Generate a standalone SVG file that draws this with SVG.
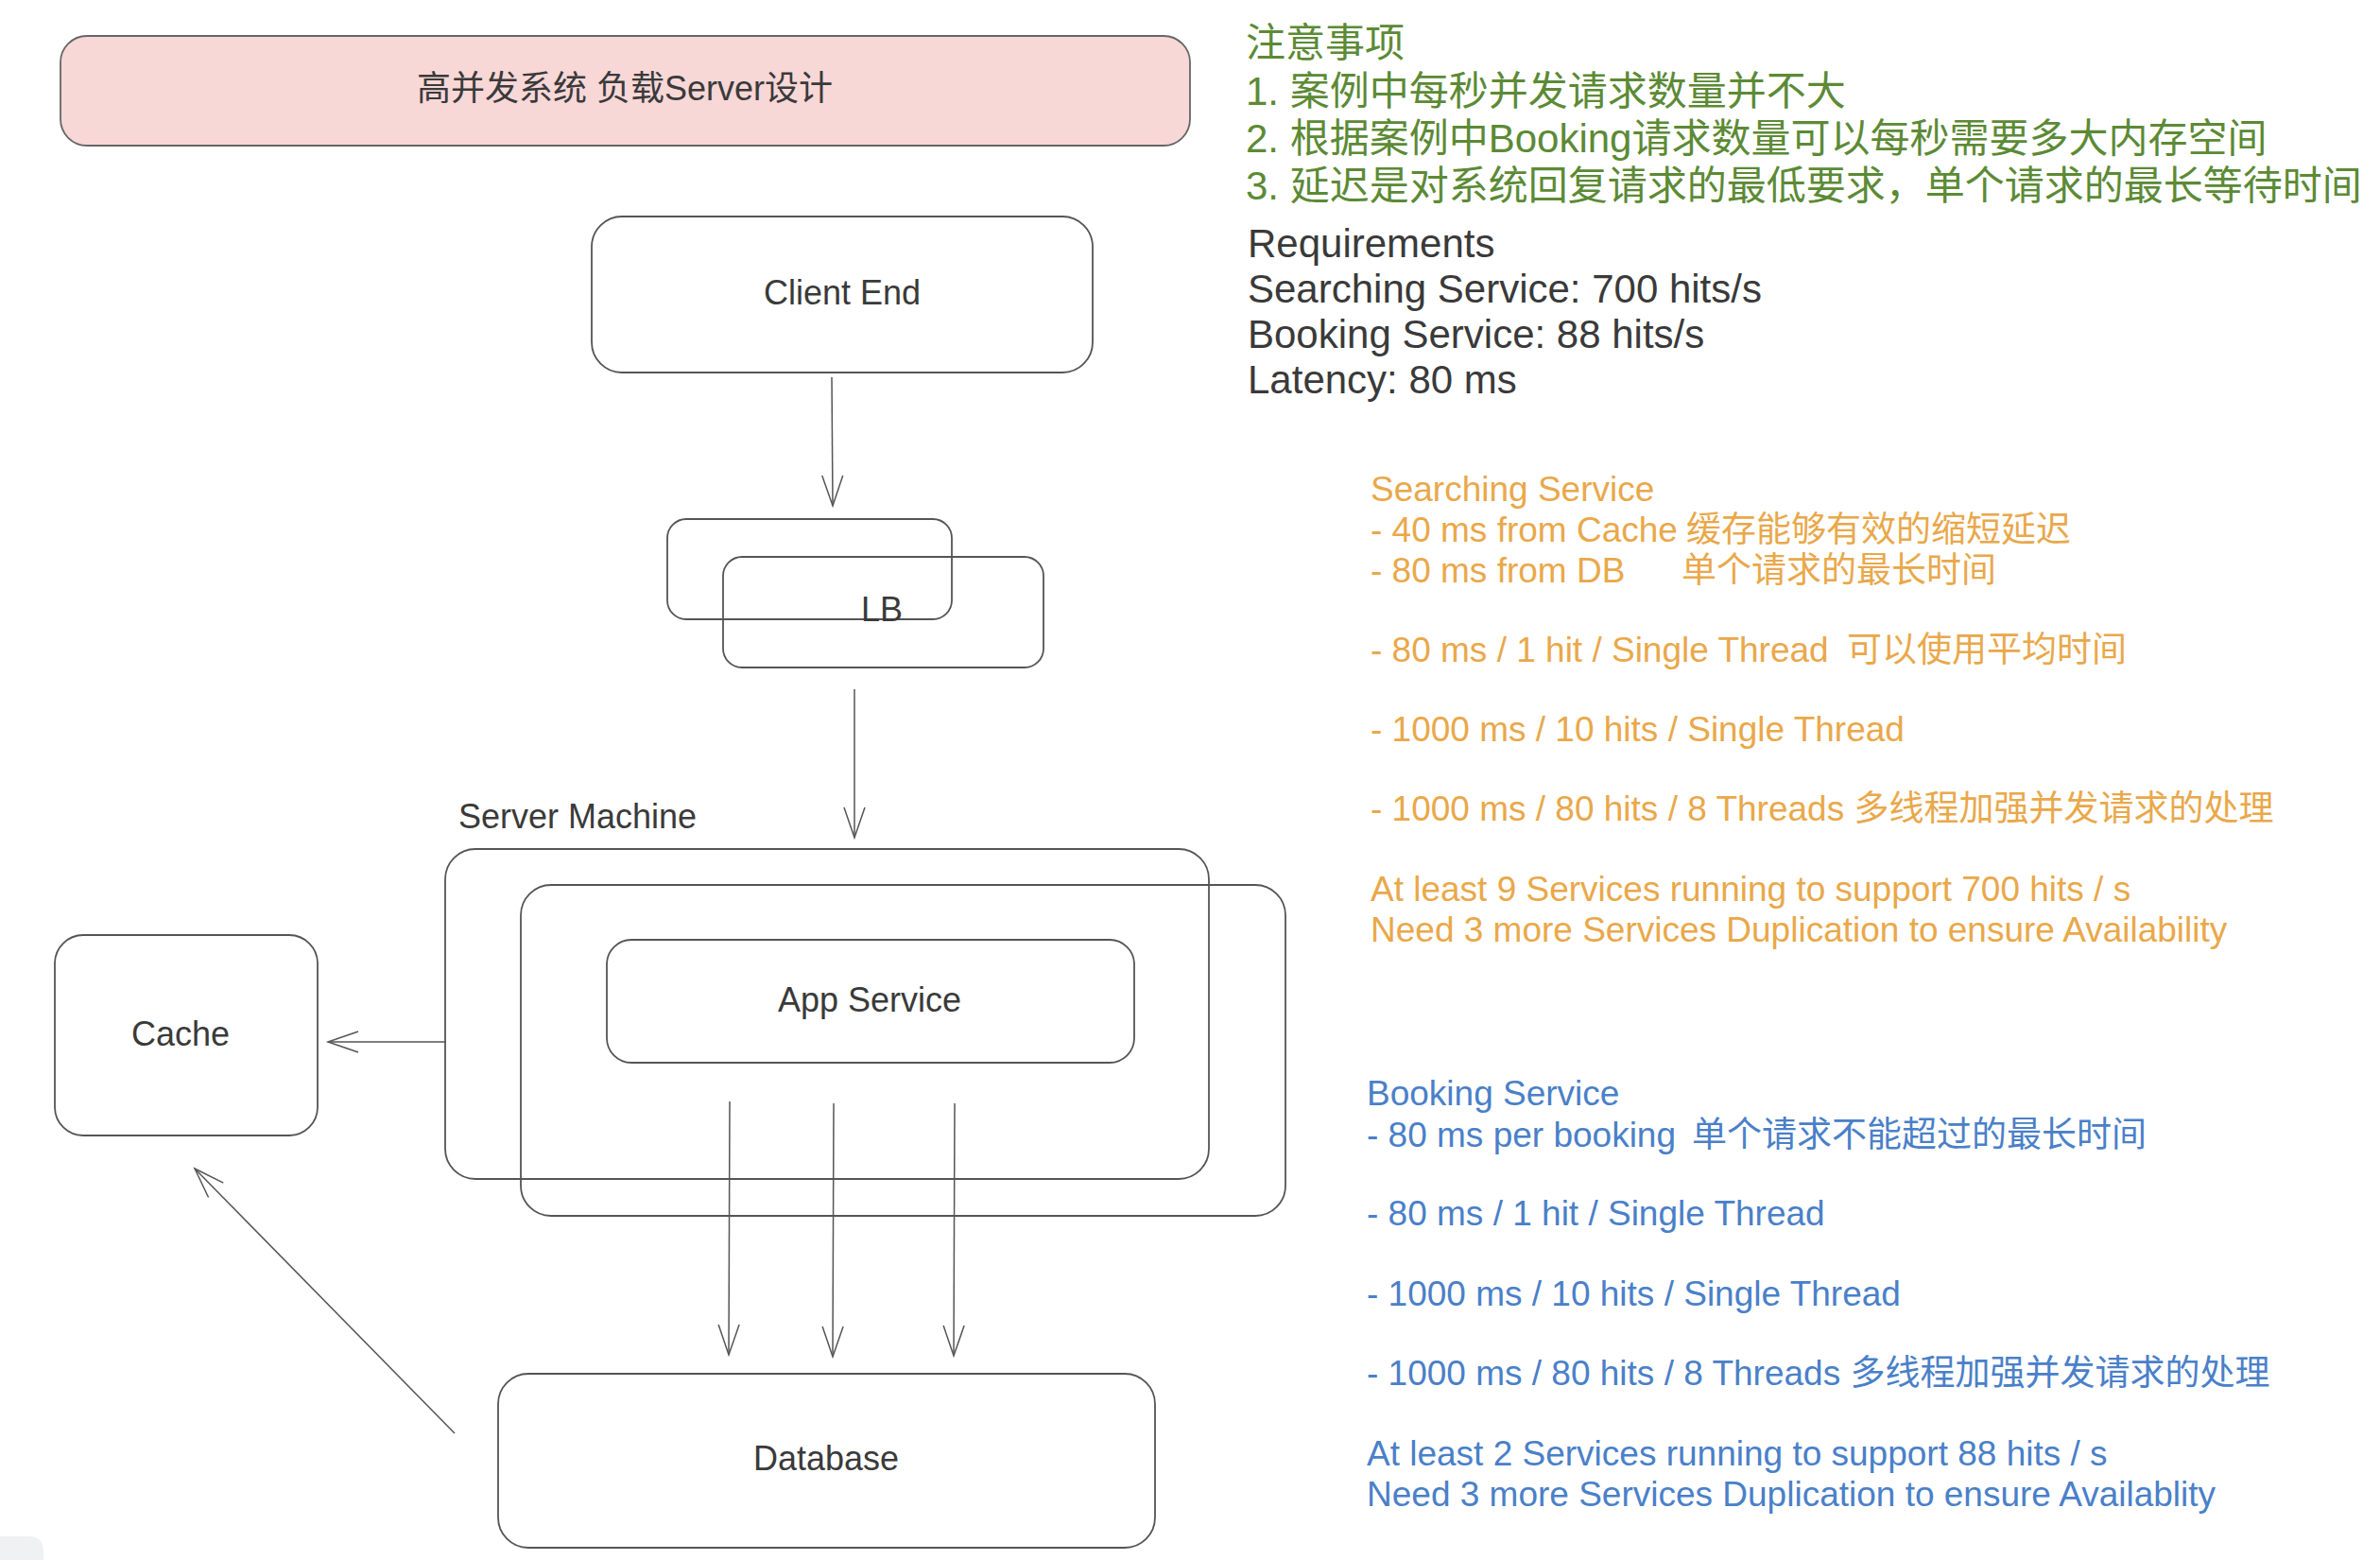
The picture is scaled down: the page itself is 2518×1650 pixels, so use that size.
<svg xmlns="http://www.w3.org/2000/svg" width="2518" height="1650" viewBox="0 0 2518 1650">
<defs>
<style>
.box{fill:none;stroke:#555;stroke-width:1.8}
.lbl{font-family:"Liberation Sans","Noto Sans CJK SC",sans-serif;font-size:36px;fill:#3a3a3a;text-anchor:middle}
.con{stroke:#555;stroke-width:1.5;fill:none}
.note{font-family:"Liberation Sans","Noto Sans CJK SC",sans-serif}
.g{font-size:42px;fill:#5c8a35}
.k{font-size:42px;fill:#3a3a3a}
.o{font-size:37px;fill:#e9a84a}
.b{font-size:37px;fill:#4a80c8}
</style>
<marker id="arr" markerUnits="userSpaceOnUse" markerWidth="40" markerHeight="30" viewBox="-36 -15 40 30" refX="0" refY="0" orient="auto">
<path d="M-32,-11 L0,0 L-32,11" fill="none" stroke="#555" stroke-width="1.5"/>
</marker>
</defs>
<rect width="2518" height="1650" fill="#ffffff"/>

<g id="title">
<rect x="64" y="38" width="1195" height="116" rx="28" fill="#f8d7d7" stroke="#666" stroke-width="1.8"/>
<text class="lbl" x="661" y="106">高并发系统 负载Server设计</text>
</g>

<g id="client-end">
<rect class="box" x="626" y="229" width="530" height="165" rx="32"/>
<text class="lbl" x="891" y="322">Client End</text>
</g>

<g id="lb">
<rect class="box" x="706" y="549" width="301" height="106" rx="20"/>
<rect class="box" x="765" y="589" width="339" height="117" rx="20"/>
<text class="lbl" x="933" y="657">LB</text>
</g>

<g id="server-machine">
<text class="lbl" x="611" y="876">Server Machine</text>
<rect class="box" x="471" y="898" width="808" height="349" rx="32"/>
<rect class="box" x="551" y="936" width="809" height="350" rx="32"/>
</g>

<g id="app-service">
<rect class="box" x="642" y="994" width="558" height="130" rx="26"/>
<text class="lbl" x="920" y="1070">App Service</text>
</g>

<g id="cache">
<rect class="box" x="58" y="989" width="278" height="212" rx="30"/>
<text class="lbl" x="191" y="1106">Cache</text>
</g>

<g id="database">
<rect class="box" x="527" y="1453" width="695" height="184" rx="32"/>
<text class="lbl" x="874" y="1555">Database</text>
</g>

<g id="connectors">
<line class="con" x1="880" y1="399" x2="881" y2="535" marker-end="url(#arr)"/>
<line class="con" x1="904" y1="729" x2="904" y2="886" marker-end="url(#arr)"/>
<line class="con" x1="472" y1="1102" x2="347" y2="1102" marker-end="url(#arr)"/>
<line class="con" x1="772" y1="1165" x2="771" y2="1433" marker-end="url(#arr)"/>
<line class="con" x1="882" y1="1167" x2="881" y2="1435" marker-end="url(#arr)"/>
<line class="con" x1="1010" y1="1167" x2="1009" y2="1434" marker-end="url(#arr)"/>
<line class="con" x1="481" y1="1516" x2="206" y2="1236" marker-end="url(#arr)"/>
</g>

<g id="notes" class="note">
<text class="g" x="1318" y="60">注意事项</text>
<text class="g" x="1318" y="111">1. 案例中每秒并发请求数量并不大</text>
<text class="g" x="1318" y="161">2. 根据案例中Booking请求数量可以每秒需要多大内存空间</text>
<text class="g" x="1318" y="211">3. 延迟是对系统回复请求的最低要求，单个请求的最长等待时间</text>
</g>

<g id="requirements" class="note">
<text class="k" x="1320" y="272">Requirements</text>
<text class="k" x="1320" y="320">Searching Service: 700 hits/s</text>
<text class="k" x="1320" y="368">Booking Service: 88 hits/s</text>
<text class="k" x="1320" y="416">Latency: 80 ms</text>
</g>

<g id="searching-notes" class="note">
<text class="o" x="1450" y="530">Searching Service</text>
<text class="o" x="1450" y="573">- 40 ms from Cache <tspan x="1784">缓存能够有效的缩短延迟</tspan></text>
<text class="o" x="1450" y="616">- 80 ms from DB <tspan x="1779">单个请求的最长时间</tspan></text>
<text class="o" x="1450" y="700">- 80 ms / 1 hit / Single Thread <tspan x="1954">可以使用平均时间</tspan></text>
<text class="o" x="1450" y="784">- 1000 ms / 10 hits / Single Thread</text>
<text class="o" x="1450" y="868">- 1000 ms / 80 hits / 8 Threads 多线程加强并发请求的处理</text>
<text class="o" x="1450" y="953">At least 9 Services running to support 700 hits / s</text>
<text class="o" x="1450" y="996">Need 3 more Services Duplication to ensure Availability</text>
</g>

<g id="booking-notes" class="note">
<text class="b" x="1446" y="1169">Booking Service</text>
<text class="b" x="1446" y="1213">- 80 ms per booking <tspan x="1790">单个请求不能超过的最长时间</tspan></text>
<text class="b" x="1446" y="1296">- 80 ms / 1 hit / Single Thread</text>
<text class="b" x="1446" y="1381">- 1000 ms / 10 hits / Single Thread</text>
<text class="b" x="1446" y="1465">- 1000 ms / 80 hits / 8 Threads 多线程加强并发请求的处理</text>
<text class="b" x="1446" y="1550">At least 2 Services running to support 88 hits / s</text>
<text class="b" x="1446" y="1593">Need 3 more Services Duplication to ensure Availablity</text>
</g>

<path d="M0,1625 L30,1625 Q46,1625 46,1641 L46,1650 L0,1650 Z" fill="#f0f1f3"/>
</svg>
